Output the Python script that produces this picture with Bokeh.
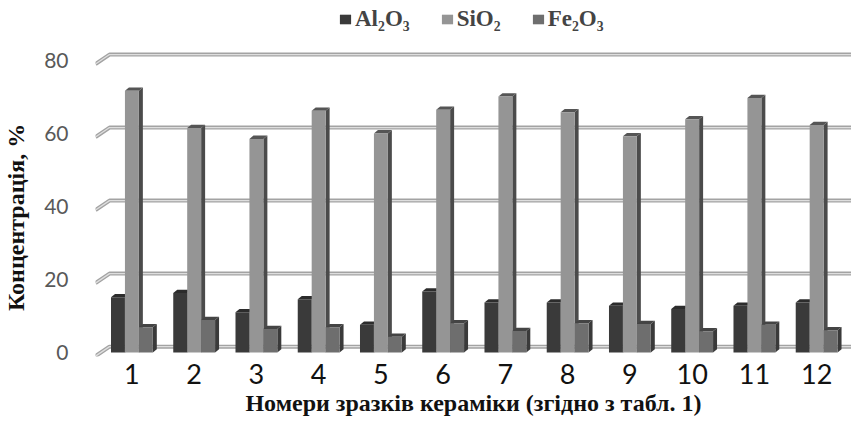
import numpy as np
from bokeh.plotting import figure
from bokeh.models import Range1d, FixedTicker, Legend, LegendItem, ColumnDataSource
from bokeh.embed import file_html
from bokeh.resources import INLINE

# ---------------- data ----------------
samples = list(range(1, 13))
al2o3 = [15.1, 16.3, 11.0, 14.6, 7.6, 16.7, 13.7, 13.7, 12.8, 11.9, 12.8, 13.7]
sio2 = [71.7, 61.5, 58.5, 66.2, 60.0, 66.5, 70.1, 65.8, 59.2, 63.9, 69.7, 62.3]
fe2o3 = [6.9, 8.9, 6.4, 6.9, 4.3, 8.0, 5.9, 8.0, 7.8, 5.8, 7.6, 6.1]
y_ticks = [0, 20, 40, 60, 80]
series_names = ["Al₂O₃", "SiO₂", "Fe₂O₃"]
x_title = "Номери зразків кераміки (згідно з табл. 1)"
y_title = "Концентрація, %"

# ---------------- styling / geometry ----------------
W, H = 851, 422
BL, BR, BT, BB = 93, 0, 0, 66
X0, X1 = 0.415, 12.56
Y0, Y1 = -1.1, 96.4
bar_w = 0.224
ddx, ddy = 0.064, 0.9          # 3D depth of bars (data units)
front_colors = ["#3a3a3a", "#959595", "#6e6e6e"]
side_colors = ["#222222", "#4b4b4b", "#3a3a3a"]
top_colors = ["#2c2c2c", "#555555", "#444444"]
# trailing no-break spaces shift the (frame-centred) y title downwards
y_title_pad = "\u00a0" * 13

p = figure(width=W, height=H, output_backend="svg", toolbar_location=None,
           x_range=Range1d(X0, X1), y_range=Range1d(Y0, Y1),
           min_border_left=BL, min_border_right=BR, min_border_top=BT, min_border_bottom=BB)
p.outline_line_color = None
p.xgrid.visible = False
p.ygrid.visible = False
p.background_fill_color = "white"
p.border_fill_color = "white"

# axes
p.yaxis.ticker = FixedTicker(ticks=y_ticks)
p.yaxis.axis_line_color = None
p.yaxis.major_tick_line_color = None
p.yaxis.minor_tick_line_color = None
p.yaxis.major_label_standoff = 21
p.yaxis.major_label_text_font = "Lato"
p.yaxis.major_label_text_font_size = "21px"
p.yaxis.major_label_text_color = "#595959"
p.yaxis.axis_label = y_title + y_title_pad
p.yaxis.axis_label_standoff = 12
p.yaxis.axis_label_text_font = "Liberation Serif"
p.yaxis.axis_label_text_font_style = "bold"
p.yaxis.axis_label_text_font_size = "24px"
p.yaxis.axis_label_text_color = "#111111"

p.xaxis.ticker = FixedTicker(ticks=samples)
p.xaxis.axis_line_color = None
p.xaxis.major_tick_line_color = None
p.xaxis.minor_tick_line_color = None
p.xaxis.major_label_standoff = 1
p.xaxis.major_label_text_font = "Lato"
p.xaxis.major_label_text_font_size = "27px"
p.xaxis.major_label_text_color = "#111111"
p.xaxis.axis_label = x_title
p.xaxis.axis_label_standoff = 3
p.xaxis.axis_label_text_font = "Liberation Serif"
p.xaxis.axis_label_text_font_style = "bold"
p.xaxis.axis_label_text_font_size = "24px"
p.xaxis.axis_label_text_color = "#111111"

# 3D-style gridlines on back wall
x_back = 0.64
gxs = [[X0, x_back, X1] for v in y_ticks]
gys = [[v - 1.0, v + 1.6, v + 1.6] for v in y_ticks]
p.multi_line(gxs, gys, line_color="#a3a3a3", line_width=4)
p.multi_line(gxs, gys, line_color="#dedede", line_width=1.3)

# bars
series = [al2o3, sio2, fe2o3]
offsets = [-bar_w, 0.0, bar_w]
renderers = []
for vals, off, fc, sc, tc in zip(series, offsets, front_colors, side_colors, top_colors):
    xs = np.array(samples, dtype=float) + off
    L = xs - bar_w / 2
    R = xs + bar_w / 2
    v = np.array(vals)
    side_x = [[r, r + ddx, r + ddx, r] for r in R]
    side_y = [[0, ddy, t + ddy, t] for t in v]
    top_x = [[l, r, r + ddx, l + ddx] for l, r in zip(L, R)]
    top_y = [[t, t, t + ddy, t + ddy] for t in v]
    p.patches(side_x, side_y, fill_color=sc, line_color=None)
    p.patches(top_x, top_y, fill_color=tc, line_color=None)
    src = ColumnDataSource(dict(left=L, right=R, top=v, bottom=np.zeros_like(v)))
    r = p.quad(left="left", right="right", top="top", bottom="bottom", source=src,
               fill_color=fc, line_color=None)
    renderers.append(r)

legend = Legend(items=[LegendItem(label=n, renderers=[r]) for n, r in zip(series_names, renderers)],
                orientation="horizontal", location=(243, 324))
legend.background_fill_alpha = 0
legend.border_line_alpha = 0
legend.padding = 0
legend.margin = 0
legend.glyph_width = 14
legend.glyph_height = 12
legend.label_standoff = 3
legend.spacing = 30
legend.label_text_font = "Liberation Serif"
legend.label_text_font_style = "bold"
legend.label_text_font_size = "23px"
p.add_layout(legend)

open("out.html", "w").write(file_html(p, INLINE))
